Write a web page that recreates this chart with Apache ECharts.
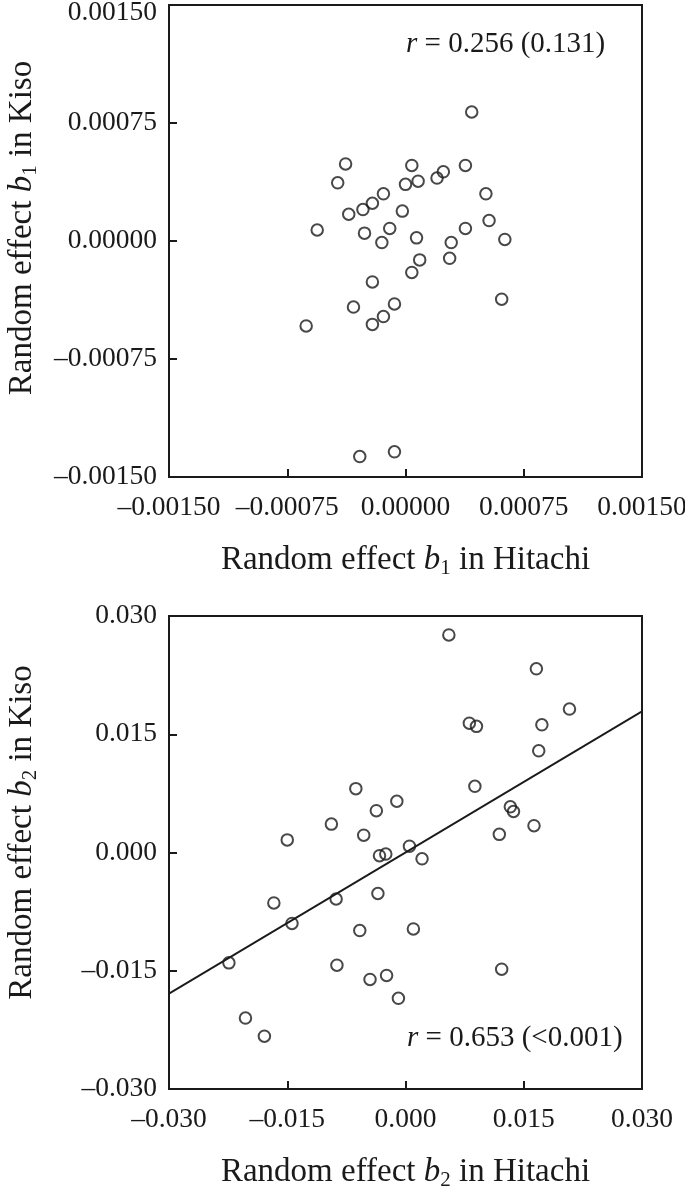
<!DOCTYPE html>
<html>
<head>
<meta charset="utf-8">
<script src="https://cdn.jsdelivr.net/npm/echarts@6/dist/echarts.min.js"></script>
<style>
  body { margin: 0; background: #fff; }
  #chart { width: 685px; height: 1194px; }
</style>
</head>
<body>
<div id="chart"></div>
<script>
// b1 random effects (top panel)
var b1Hitachi = [0.00042, -0.00038, -0.00043, 0.00004, 0.00024, 0.00020, 0.00038, 0.00000, 0.00008, 0.00051,
  -0.00014, -0.00021, -0.00027, -0.00036, -0.00002, 0.00053, 0.00038, -0.00056, -0.00010, -0.00026,
  -0.00015, 0.00007, 0.00029, 0.00063, 0.00009, 0.00028, 0.00004, -0.00021, 0.00061, -0.00033,
  -0.00007, -0.00014, -0.00021, -0.00063, -0.00029, -0.00007];
var b1Kiso = [0.00082, 0.00049, 0.00037, 0.00048, 0.00044, 0.00040, 0.00048, 0.00036, 0.00038, 0.00030,
  0.00030, 0.00024, 0.00020, 0.00017, 0.00019, 0.00013, 0.00008, 0.00007, 0.00008, 0.00005,
  -0.00001, 0.00002, -0.00001, 0.00001, -0.00012, -0.00011, -0.00020, -0.00026, -0.00037, -0.00042,
  -0.00040, -0.00048, -0.00053, -0.00054, -0.00137, -0.00134];

// b2 random effects (bottom panel)
var b2Hitachi = [0.0055, 0.0166, 0.0208, 0.0081, 0.0090, 0.0173, 0.0169, 0.0088, -0.0063, -0.0011,
  -0.0037, 0.0133, 0.0137, -0.0094, -0.0053, 0.0163, 0.0119, -0.0150, 0.0005, -0.0033,
  -0.0025, 0.0021, -0.0167, -0.0088, -0.0035, -0.0144, -0.0058, 0.0010, -0.0224, -0.0087,
  -0.0024, -0.0045, 0.0122, -0.0009, -0.0203, -0.0179];
var b2Kiso = [0.0276, 0.0233, 0.0182, 0.0164, 0.0160, 0.0162, 0.0129, 0.0084, 0.0081, 0.0065,
  0.0053, 0.0058, 0.0052, 0.0036, 0.0022, 0.0034, 0.0023, 0.0016, 0.0008, -0.0004,
  -0.0002, -0.0008, -0.0064, -0.0059, -0.0052, -0.0090, -0.0099, -0.0097, -0.0140, -0.0143,
  -0.0156, -0.0161, -0.0148, -0.0185, -0.0210, -0.0233];

// fitted line endpoints for b2
var b2FitX = [-0.030, 0.030];
var b2FitY = [-0.0179, 0.0179];

var b1Range = [-0.0015, 0.0015], b1Step = 0.00075;
var b2Range = [-0.030, 0.030], b2Step = 0.015;
var b1Text = '{i|r} = 0.256 (0.131)';
var b2Text = '{i|r} = 0.653 (<0.001)';

var FONT = '"Liberation Serif", "Times New Roman", serif';
var INK = '#1a1a1a';
var TICK_FS = 27.5;

function zip(a, b) {
  return a.map(function (v, i) { return [v, b[i]]; });
}
function fmt(digits, pushTop) {
  return function (v) {
    var s = Math.abs(v) < 1e-12 ? (0).toFixed(digits) : (v < 0 ? '\u2013' : '') + Math.abs(v).toFixed(digits);
    // top label of the first panel sits a little lower, inside the picture
    if (pushTop && v > 0 && Math.abs(v - pushTop) < 1e-12) return '{t|' + s + '}';
    return s;
  };
}

var richName = {
  n: { fontFamily: FONT, fontSize: 33, color: INK, lineHeight: 38 },
  b: { fontFamily: FONT, fontSize: 33, fontStyle: 'italic', color: INK, lineHeight: 38 },
  s: { fontFamily: FONT, fontSize: 21, color: INK, lineHeight: 21, verticalAlign: 'bottom' }
};
var richNote = {
  i: { fontFamily: FONT, fontSize: 29, fontStyle: 'italic', color: INK }
};
var richTick = {
  t: { fontFamily: FONT, fontSize: TICK_FS, color: INK, padding: [15, 0, 0, 0] }
};

function xAxis(grid, range, step, digits, sub) {
  return {
    gridIndex: grid, type: 'value', min: range[0], max: range[1], interval: step,
    name: '{n|Random effect }{b|b}{s|' + sub + '}{n| in Hitachi}',
    nameLocation: 'middle', nameGap: 64,
    nameTextStyle: { rich: richName },
    axisLine: { show: true, onZero: false, lineStyle: { color: INK, width: 2 } },
    axisTick: { show: true, inside: true, length: 8, lineStyle: { color: INK, width: 2 } },
    axisLabel: { margin: 17, fontFamily: FONT, fontSize: TICK_FS, color: INK, formatter: fmt(digits) },
    splitLine: { show: false }
  };
}
function yAxis(grid, range, step, digits, sub, shift, pushTop) {
  return {
    gridIndex: grid, type: 'value', min: range[0], max: range[1], interval: step,
    name: '{n|Random effect }{b|b}{s|' + sub + '}{n| in Kiso}',
    nameLocation: 'middle', nameGap: 128,
    nameTextStyle: { rich: richName, padding: [0, 0, 0, shift] },
    axisLine: { show: true, onZero: false, lineStyle: { color: INK, width: 2 } },
    axisTick: { show: true, inside: true, length: 8, lineStyle: { color: INK, width: 2 } },
    axisLabel: { margin: 12, fontFamily: FONT, fontSize: TICK_FS, color: INK,
      formatter: fmt(digits, pushTop), rich: richTick },
    splitLine: { show: false }
  };
}
function dots(grid, data) {
  return {
    type: 'scatter', xAxisIndex: grid, yAxisIndex: grid, data: data,
    symbol: 'circle', symbolSize: 11.5,
    itemStyle: { color: 'rgba(0,0,0,0)', borderColor: INK, borderWidth: 2 }
  };
}

var chart = echarts.init(document.getElementById('chart'));
chart.setOption({
  animation: false,
  backgroundColor: '#fff',
  title: [
    { text: b1Text, left: 406, top: 30, padding: 0,
      textStyle: { fontFamily: FONT, fontSize: 29, fontWeight: 'normal', color: INK, rich: richNote } },
    { text: b2Text, left: 407, top: 1024, padding: 0,
      textStyle: { fontFamily: FONT, fontSize: 29, fontWeight: 'normal', color: INK, rich: richNote } }
  ],
  grid: [
    { left: 169, top: 5, width: 473, height: 472, outerBoundsMode: 'none',
      show: true, borderColor: INK, borderWidth: 2 },
    { left: 169, top: 616, width: 473, height: 473, outerBoundsMode: 'none',
      show: true, borderColor: INK, borderWidth: 2 }
  ],
  xAxis: [xAxis(0, b1Range, b1Step, 5, '1'), xAxis(1, b2Range, b2Step, 3, '2')],
  yAxis: [yAxis(0, b1Range, b1Step, 5, '1', 26, b1Range[1]), yAxis(1, b2Range, b2Step, 3, '2', 40, null)],
  series: [
    dots(0, zip(b1Hitachi, b1Kiso)),
    dots(1, zip(b2Hitachi, b2Kiso)),
    {
      type: 'line', xAxisIndex: 1, yAxisIndex: 1, data: zip(b2FitX, b2FitY),
      showSymbol: false, silent: true,
      lineStyle: { color: INK, width: 1.8 }
    }
  ]
});
</script>
</body>
</html>
